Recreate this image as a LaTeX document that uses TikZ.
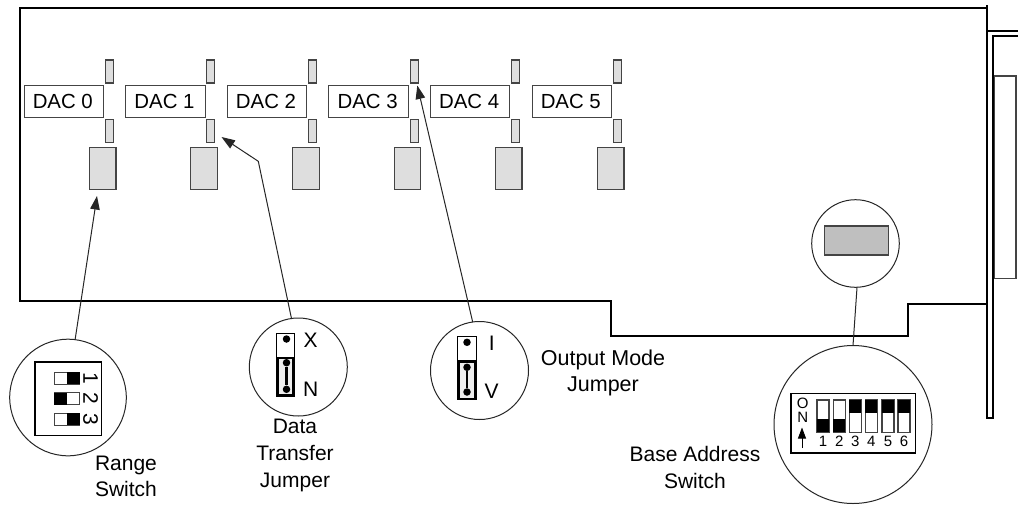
\documentclass[tikz,border=0pt]{standalone}
\usepackage{fontspec}
\setmainfont{Liberation Sans}
\usetikzlibrary{arrows.meta}
\definecolor{edgegrey}{HTML}{444444}
\definecolor{partgrey}{HTML}{DEDEDE}
\definecolor{chipgrey}{HTML}{BFBFBF}
\definecolor{slotgrey}{HTML}{EEEEEE}
\tikzset{
  board/.style={line width=2pt,line cap=rect,line join=miter},
  dacbox/.style={draw=edgegrey,line width=1pt,fill=white,minimum width=79.5pt,minimum height=32.5pt,inner sep=0pt,outer sep=0pt},
  dactext/.style={inner sep=0pt,outer sep=0pt,font=\fontsize{20.4}{24}\selectfont},
  smalljmp/.style={draw=edgegrey,line width=1.1pt,fill=partgrey,minimum width=8.2pt,minimum height=23pt,inner sep=0pt,outer sep=0pt},
  rangesw/.style={draw=edgegrey,line width=1.1pt,fill=partgrey,minimum width=26.5pt,minimum height=42.3pt,inner sep=0pt,outer sep=0pt},
  lens/.style={draw=black!85,line width=1pt,circle,inner sep=0pt,outer sep=0pt},
  lead/.style={draw=black!85,line width=1pt},
  leadarrow/.style={lead,-{Triangle[length=13.5pt,width=9.5pt]}},
  lbl/.style={inner sep=0pt,outer sep=0pt,align=center,font=\fontsize{21}{26.6}\selectfont},
  toggle/.style={draw=edgegrey,line width=1.1pt,fill=white},
  knob/.style={fill=black},
  pin/.style={circle,fill=black,minimum size=7.5pt,inner sep=0pt},
  swnum/.style={inner sep=0pt,font=\fontsize{15}{16}\selectfont},
  rotnum/.style={inner sep=0pt,font=\fontsize{21}{24}\selectfont,rotate=-90}
}
\begin{document}
\begin{tikzpicture}[x=1pt,y=-1pt]
\useasboundingbox (0,0) rectangle (1018,504);
\fill[white] (0,0) rectangle (1018,504);
% bracket
\draw[draw=edgegrey,line width=1.3pt] (994,278.5) -- (994,76) -- (1016,76) -- (1016,278.5) -- cycle;
\draw[board] (987,6) -- (987,418) -- (993,418) -- (993,36) -- (1018,36);
\draw[board] (987,31) -- (1018,31);
% board outline
\draw[board] (987,7.5) -- (19.5,7.5) -- (19.5,301) -- (611,301) -- (611,336) -- (908,336) -- (908,304) -- (987,304);
% DAC channels
\foreach \n/\bx/\sx/\lx in {0/63.8/109.7/102.7,1/165.5/210.8/203.9,2/267/312.8/305.9,3/368.7/414.5/407.4,4/470.2/515.8/508.7,5/571.8/617.8/610.7}{
  \node[dacbox] (dac\n) at (\bx,101.3) {};
  \node[dactext,anchor=base] (daclabel\n) at (\bx-1,108.3) {DAC \n};
  \node[smalljmp] (top\n) at (\sx,71.5) {};
  \node[smalljmp] (bot\n) at (\sx,131.3) {};
  \node[rangesw] (sw\n) at (\lx,168.2) {};
}
% lenses
\node[lens,minimum size=116.6pt] (rangeC) at (68,397.5) {};
\node[lens,minimum size=98pt] (dataC) at (298.3,367) {};
\node[lens,minimum size=98pt] (outC) at (479.5,370.5) {};
\node[lens,minimum size=87.6pt] (chipC) at (855.5,243.5) {};
\node[lens,minimum size=158pt] (baseC) at (853,424.5) {};
% chip
\node[draw=edgegrey,line width=1.2pt,fill=chipgrey,minimum width=64pt,minimum height=29pt,inner sep=0pt,outer sep=0pt] (chip) at (856.3,240.5) {};
% connectors
\coordinate (rangeTip) at (97,196);
\coordinate (dataTip) at (221.5,137);
\coordinate (dataBend) at (258.3,161.3);
\coordinate (outTip) at (417.3,85.5);
\draw[leadarrow] (rangeC.83) -- (rangeTip);
\draw[leadarrow] (dataC.98) -- (dataBend) -- (dataTip);
\draw[leadarrow] (outC.98) -- (outTip);
\draw[lead] (baseC.90) -- (chipC.272);
% range switch
\node[draw=black,line width=1.2pt,minimum width=66.3pt,minimum height=73.7pt,inner sep=0pt,outer sep=0pt] (rangeBox) at (68.2,398.8) {};
\foreach \ya/\yb/\xa/\xb in {372.3/384.3/66.7/79.7,392.7/404.7/54.3/66.7,413.3/425.3/66.7/79.7}{
  \draw[toggle] (54.3,\ya) rectangle (79.7,\yb);
  \fill[knob] (\xa,\ya) rectangle (\xb,\yb);
}
\node[rotnum] (r1) at (90.7,378) {1};
\node[rotnum] (r2) at (90.7,398.5) {2};
\node[rotnum] (r3) at (90.7,419) {3};
% data jumper
\draw[draw=black,line width=1.1pt,fill=white] (276.7,333.3) rectangle (294.3,358);
\draw[draw=black,line width=2.8pt,fill=slotgrey] (277.7,358) rectangle (293.3,395.7);
\node[pin] (dp1) at (286.5,339) {};
\node[pin] (dp2) at (286.5,362.7) {};
\node[pin] (dp3) at (286.5,389.3) {};
\draw[line width=2.2pt] (dp2) -- (dp3);
\node[lbl] (xl) at (310.7,340.7) {X};
\node[lbl] (nl) at (310.7,389.3) {N};
% output jumper
\draw[draw=black,line width=1.1pt,fill=white] (457.3,336.7) rectangle (476.7,361.7);
\draw[draw=black,line width=2.8pt,fill=slotgrey] (458.5,361.7) rectangle (475.5,399);
\node[pin] (op1) at (467,342.3) {};
\node[pin] (op2) at (467,367.3) {};
\node[pin] (op3) at (467,392) {};
\draw[line width=2.2pt] (op2) -- (op3);
\node[lbl] (il) at (491.7,343.3) {I};
\node[lbl] (vl) at (491.7,391.7) {V};
% base DIP
\node[draw=black,line width=1.2pt,minimum width=124.7pt,minimum height=59.7pt,inner sep=0pt,outer sep=0pt] (baseBox) at (853.4,423.2) {};
\foreach \xa/\n in {817/1,833.3/2}{
  \draw[toggle] (\xa,400) rectangle ++(12,32.3);
  \fill[knob] (\xa,419) rectangle ++(12,13.3);
  \node[swnum] (b\n) at (\xa+6,441.7) {\n};
}
\foreach \xa/\n in {849.3/3,865.3/4,882/5,898/6}{
  \draw[toggle] (\xa,400) rectangle ++(12,32.3);
  \fill[knob] (\xa,400) rectangle ++(12,12.7);
  \node[swnum] (b\n) at (\xa+6,441.7) {\n};
}
\node[swnum] (onO) at (802.7,403) {O};
\node[swnum] (onN) at (802.7,417.5) {N};
\coordinate (onTail) at (802,448);
\coordinate (onTip) at (802,427.5);
\draw[draw=black,line width=0.8pt,-{Triangle[length=11pt,width=8pt]}] (onTail) -- (onTip);
% captions
\node[lbl] (rangeL) at (126,476.5) {Range\\Switch};
\node[lbl] (dataL) at (295,455.5) {Data\\Transfer\\Jumper};
\node[lbl,font=\fontsize{21.5}{26.6}\selectfont] (outL) at (603,373) {Output Mode\\Jumper};
\node[lbl] (baseL) at (695,467.5) {Base Address\\Switch};
\end{tikzpicture}
\end{document}
